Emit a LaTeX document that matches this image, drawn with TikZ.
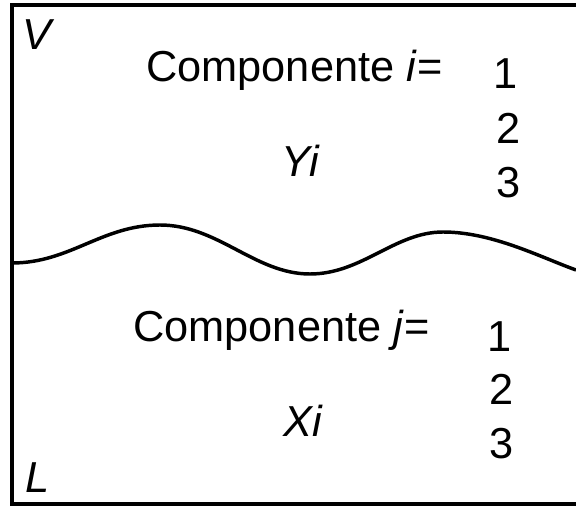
\documentclass[tikz,border=0pt]{standalone}
\usepackage{fontspec}
\setmainfont{Liberation Sans}
\begin{document}
\begin{tikzpicture}[x=0.75pt,y=-0.75pt,
  lbl/.style={inner sep=0pt,anchor=base west,font=\fontsize{32.5}{38}\selectfont},
  num/.style={inner sep=0pt,anchor=base,font=\fontsize{32.5}{38}\selectfont},
  edge/.style={line width=2.6pt,line cap=butt,line join=miter}]
\useasboundingbox (0,0) rectangle (576,506);
% box (open on the right)
\draw[edge] (576,5) -| (12,504) -- (576,504);
% wave interface
\draw[edge] (12,263) .. controls (70,263) and (102,225) .. (160,225)
  .. controls (218,225) and (255,274) .. (310,274)
  .. controls (362,274) and (395,232) .. (443,232)
  .. controls (492,232) and (540,257) .. (576,270);
% phase labels
\node[lbl] (V) at (22,50) {\textit{V}};
\node[lbl] (L) at (25,493) {\textit{L}};
% vapour
\node[lbl] (compi) at (146,82) {Componente \textit{i}=};
\node[num] (i1) at (506,89) {1};
\node[num] (i2) at (509,144) {2};
\node[num] (i3) at (509,198) {3};
\node[lbl] (Yi) at (281,177) {\textit{Yi}};
% liquid
\node[lbl] (compj) at (133,342) {Componente \textit{j}=};
\node[num] (j1) at (500,352) {1};
\node[num] (j2) at (502,405) {2};
\node[num] (j3) at (502,459) {3};
\node[lbl] (Xi) at (283,437) {\textit{Xi}};
\end{tikzpicture}
\end{document}
